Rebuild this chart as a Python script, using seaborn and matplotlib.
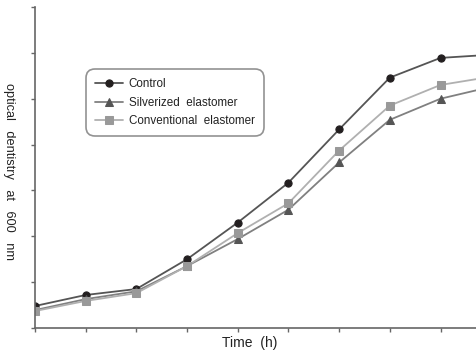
import matplotlib
matplotlib.use("Agg")
import matplotlib.pyplot as plt
import seaborn as sns
import pandas as pd

# time points (tick units) and optical density readings
time_h = [0, 1, 2, 3, 4, 5, 6, 7, 8, 9]
control = [0.48, 0.72, 0.85, 1.50, 2.30, 3.17, 4.33, 5.46, 5.89, 5.96]
silverized = [0.39, 0.63, 0.80, 1.35, 1.94, 2.58, 3.61, 4.54, 5.00, 5.26]
conventional = [0.37, 0.59, 0.76, 1.35, 2.07, 2.72, 3.87, 4.85, 5.30, 5.48]

series_names = ["Control", "Silverized  elastomer", "Conventional  elastomer"]
series_values = [control, silverized, conventional]

sns.set_theme(style="white")
plt.rcParams["font.family"] = ["Liberation Sans", "DejaVu Sans"]

fig = plt.figure(figsize=(4.77, 3.53), dpi=100)
ax = fig.add_axes([35 / 477, 1 - 328 / 353, 442 / 477, 321 / 353])

styles = [
    dict(marker="o", color="#555555", mfc="#231f20", mec="#231f20"),
    dict(marker="^", color="#808080", mfc="#555555", mec="#555555"),
    dict(marker="s", color="#b0b0b0", mfc="#999999", mec="#999999"),
]

for name, vals, st in zip(series_names, series_values, styles):
    df = pd.DataFrame({"time": time_h, "od": vals})
    sns.lineplot(data=df, x="time", y="od", ax=ax, label=name,
                 color=st["color"], marker=st["marker"], markersize=5.2,
                 markerfacecolor=st["mfc"], markeredgecolor=st["mec"],
                 linewidth=1.3, clip_on=True)

ax.set_xlim(0, 8.72)
ax.set_ylim(0, 7)
ax.set_xticks(range(0, 9))
ax.set_yticks(range(0, 8))
ax.set_xticklabels([])
ax.set_yticklabels([])
ax.tick_params(axis="both", direction="out", length=3, width=1, color="#666666",
               bottom=True, left=True)

for side in ["top", "right"]:
    ax.spines[side].set_visible(False)
for side in ["left", "bottom"]:
    ax.spines[side].set_color("#666666")
    ax.spines[side].set_linewidth(1.2)

ax.set_xlabel("Time  (h)", fontsize=10, color="#222222")
ax.xaxis.set_label_coords(0.485, -0.025)
ax.set_ylabel("optical   dentistry   at   600   nm", fontsize=9.2, color="#222222",
              rotation=-90)
ax.yaxis.set_label_coords(-0.072, 0.487)

leg = ax.legend(loc="upper left", bbox_to_anchor=(0.12, 0.8), borderaxespad=0,
                fontsize=8.4, frameon=True, fancybox=True, handlelength=2.4,
                labelspacing=0.55, borderpad=0.6, handletextpad=0.5)
frame = leg.get_frame()
frame.set_edgecolor("#777777")
frame.set_linewidth(1.2)
frame.set_boxstyle("round,pad=0.2,rounding_size=0.8")
for t in leg.get_texts():
    t.set_color("#222222")

fig.savefig("out.png", dpi=100)
